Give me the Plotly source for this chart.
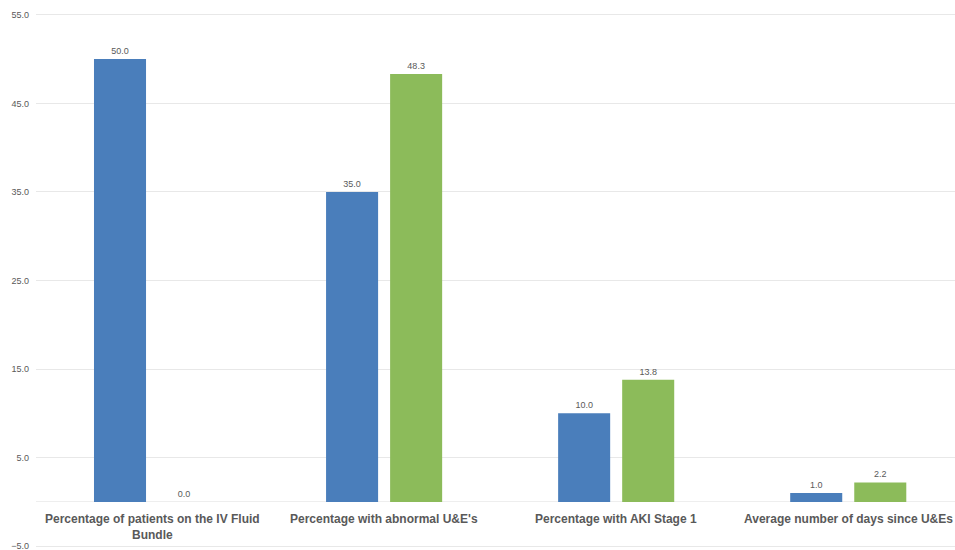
import plotly.graph_objects as go

categories = [
    "Percentage of patients on the IV Fluid<br>Bundle",
    "Percentage with abnormal U&E's",
    "Percentage with AKI Stage 1",
    "Average number of days since U&Es",
]
series_a = [50.0, 35.0, 10.0, 1.0]
series_b = [0.0, 48.3, 13.8, 2.2]
y_ticks = [-5, 5, 15, 25, 35, 45, 55]

BLUE = "#4a7ebb"
GREEN = "#8cbb5a"
TEXT = "#595959"

fig = go.Figure()
for vals, color, name in [(series_a, BLUE, "Before"), (series_b, GREEN, "After")]:
    fig.add_trace(go.Bar(
        x=categories, y=vals, name=name,
        marker=dict(color=color, line=dict(width=0)),
        text=[f"{v:.1f}" for v in vals],
        textposition="outside",
        textfont=dict(size=9, color=TEXT, family="Liberation Sans, Arial"),
        cliponaxis=False,
    ))

# category captions sit inside the plot, just under the zero line
for c in categories:
    fig.add_annotation(
        x=c, y=-0.9, xref="x", yref="y",
        text=f"<b>{c}</b>", showarrow=False,
        yanchor="top", xanchor="center",
        font=dict(size=12, color=TEXT, family="Liberation Sans, Arial"),
    )

fig.update_layout(
    width=955, height=550,
    margin=dict(l=36, r=0, t=13, b=2),
    paper_bgcolor="white", plot_bgcolor="white",
    barmode="group", bargap=0.448, bargroupgap=0.1875,
    showlegend=False,
    font=dict(family="Liberation Sans, Arial", color=TEXT),
)
fig.update_xaxes(
    range=[-0.5, 3.46], showticklabels=False, showgrid=False,
    zeroline=False, showline=False, ticks="",
)
fig.update_yaxes(
    range=[-5.2, 55.2], tickvals=y_ticks, tickformat=".1f",
    tickfont=dict(size=9, color=TEXT),
    showgrid=True, gridcolor="#e8e8e8", gridwidth=1,
    zeroline=True, zerolinecolor="#eeeeee", zerolinewidth=1,
    showline=False, ticks="", ticklabelstandoff=6,
    ticklabeloverflow="allow",
)

fig.write_html("out.html")
